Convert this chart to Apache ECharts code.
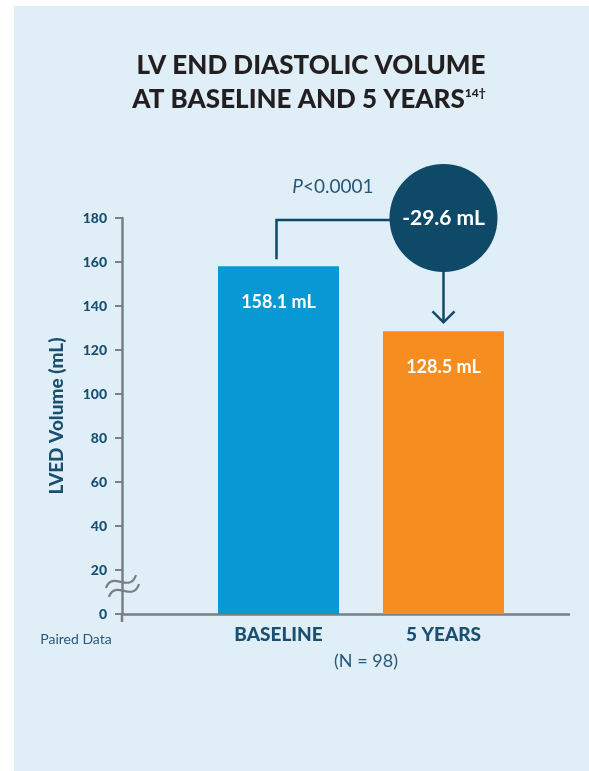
<!DOCTYPE html>
<html>
<head>
<meta charset="utf-8">
<style>
  html, body { margin: 0; padding: 0; background: #ffffff; }
  #chart { width: 589px; height: 771px; }
</style>
<script src="https://cdn.jsdelivr.net/npm/echarts@6/dist/echarts.min.js"></script>
</head>
<body>
<div id="chart"></div>
<script>
// LV end diastolic volume, paired data (N = 98)
const categories = ['BASELINE', '5 YEARS'];
const volumes = [158.1, 128.5];
const barColors = ['#0899d5', '#f58d21'];
const yTicks = { min: 0, max: 180, interval: 20 };
const pValueText = '<0.0001';
const sampleSize = 98;

const change = +(volumes[1] - volumes[0]).toFixed(1);

const FONT = 'Lato, "Open Sans", sans-serif';
const TEAL = '#1a4f70';
const SOFT_TEAL = '#285878';
const NAVY = '#0e4a67';
const AXIS_GREY = '#7b7e82';

const chart = echarts.init(document.getElementById('chart'), null, { renderer: 'canvas' });

const gridTop = 218, gridBottom = 157;

chart.setOption({
  backgroundColor: '#ffffff',
  animation: false,
  grid: [
    { left: 122, right: 20, top: gridTop, bottom: gridBottom },
    { left: 196, width: 330, top: gridTop, bottom: gridBottom }
  ],
  xAxis: [
    {
      gridIndex: 0, type: 'category', data: [''],
      axisLine: { show: true, lineStyle: { color: AXIS_GREY, width: 2.5 } },
      axisTick: { show: false }, axisLabel: { show: false }
    },
    {
      gridIndex: 1, type: 'category', data: categories,
      axisLine: { show: false }, axisTick: { show: false },
      axisLabel: { color: TEAL, fontFamily: FONT, fontWeight: 900, fontSize: 19, margin: 11 }
    }
  ],
  yAxis: [
    {
      gridIndex: 0, type: 'value', min: yTicks.min, max: yTicks.max, interval: yTicks.interval,
      name: 'LVED Volume (mL)', nameLocation: 'middle', nameGap: 56,
      nameTextStyle: { color: TEAL, fontFamily: FONT, fontWeight: 900, fontSize: 19 },
      axisLine: { show: true, lineStyle: { color: AXIS_GREY, width: 2.5 } },
      axisTick: { show: true, length: 7, lineStyle: { color: AXIS_GREY, width: 2 } },
      axisLabel: { color: TEAL, fontFamily: FONT, fontWeight: 900, fontSize: 14, margin: 15 },
      splitLine: { show: false }
    },
    {
      gridIndex: 1, type: 'value', min: yTicks.min, max: yTicks.max, interval: yTicks.interval,
      show: false, splitLine: { show: false }
    }
  ],
  series: [
    {
      type: 'bar', xAxisIndex: 1, yAxisIndex: 1, barWidth: 121, z: 3,
      data: volumes.map((v, i) => ({ value: v, itemStyle: { color: barColors[i] } })),
      label: {
        show: true, position: 'insideTop', distance: 27,
        color: '#ffffff', fontFamily: FONT, fontWeight: 'bold', fontSize: 18,
        formatter: p => p.value.toFixed(1) + ' mL'
      },
      markPoint: {
        symbol: 'circle', symbolSize: 108, silent: true,
        itemStyle: { color: NAVY },
        label: {
          show: true, position: 'inside', color: '#ffffff', fontFamily: FONT,
          fontWeight: 'bold', fontSize: 21,
          formatter: change.toFixed(1) + ' mL'
        },
        data: [{ coord: [categories[1], yTicks.max], value: change }]
      }
    }
  ]
});

// Connector, arrow, axis break and text placed from the axis scales
function px(cat, val) {
  return chart.convertToPixel({ xAxisIndex: 1, yAxisIndex: 1 }, [cat, val]);
}
const top0 = px(categories[0], volumes[0]);
const top1 = px(categories[1], volumes[1]);
const circleC = px(categories[1], yTicks.max);
const circleR = 54;
const bendY = circleC[1] + 2;
const lineX = top0[0] - 2;
const zeroY = chart.convertToPixel({ yAxisIndex: 0 }, 0);
const yAxisX = 122;
const breakY = chart.convertToPixel({ yAxisIndex: 0 }, 10);
const tipY = top1[1] - 9;
const lineStyle = { stroke: NAVY, lineWidth: 2.5, fill: null };

function tilde(dx, dy) {
  const x0 = yAxisX - 16 + dx, y0 = breakY - 4 + dy;
  return {
    type: 'bezierCurve', z: 5,
    shape: { x1: x0, y1: y0, cpx1: x0 + 6, cpy1: y0 - 18, cpx2: x0 + 24, cpy2: y0 + 6, x2: x0 + 30, y2: y0 - 13 },
    style: { stroke: AXIS_GREY, lineWidth: 2.2, fill: null }
  };
}

chart.setOption({
  graphic: [
    { type: 'rect', z: -10, shape: { x: 14, y: 6, width: 575, height: 765 }, style: { fill: '#e0eef8' } },
    {
      type: 'text', z: 5, x: 311, y: 66,
      style: { text: 'LV END DIASTOLIC VOLUME', fill: '#231f20', font: '900 26px ' + FONT, align: 'center', verticalAlign: 'middle' }
    },
    {
      type: 'text', z: 5, x: 309, y: 100,
      style: {
        text: 'AT BASELINE AND 5 YEARS{sup|14†}', fill: '#231f20', font: '900 26px ' + FONT, align: 'center', verticalAlign: 'middle',
        rich: { sup: { fontSize: 12, fontWeight: 900, fontFamily: FONT, fill: '#231f20', verticalAlign: 'top', padding: [0, 0, 12, 0] } }
      }
    },
    {
      type: 'text', z: 5, x: (lineX + circleC[0] - circleR) / 2, y: bendY - 33,
      style: {
        text: '{i|P}{n|' + pValueText + '}', align: 'center', verticalAlign: 'middle',
        rich: {
          i: { fontFamily: FONT, fontStyle: 'italic', fontSize: 19, fill: SOFT_TEAL },
          n: { fontFamily: FONT, fontWeight: 'normal', fontSize: 19, fill: SOFT_TEAL }
        }
      }
    },
    { type: 'polyline', z: 1, shape: { points: [[lineX, top0[1] - 7], [lineX, bendY], [circleC[0], bendY]] }, style: lineStyle },
    { type: 'line', z: 1, shape: { x1: circleC[0], y1: circleC[1], x2: circleC[0], y2: tipY }, style: lineStyle },
    { type: 'polyline', z: 1, shape: { points: [[circleC[0] - 11, tipY - 11], [circleC[0], tipY], [circleC[0] + 11, tipY - 11]] }, style: lineStyle },
    { type: 'line', z: 4, shape: { x1: yAxisX, y1: zeroY, x2: yAxisX, y2: zeroY + 8 }, style: { stroke: AXIS_GREY, lineWidth: 2.5 } },
    tilde(0, 0),
    tilde(3, 9),
    {
      type: 'text', z: 5, x: 76, y: zeroY + 25,
      style: { text: 'Paired Data', fill: SOFT_TEAL, font: 'normal 14px ' + FONT, align: 'center', verticalAlign: 'middle' }
    },
    {
      type: 'text', z: 5, x: 366, y: zeroY + 47,
      style: { text: '(N = ' + sampleSize + ')', fill: SOFT_TEAL, font: 'normal 18px ' + FONT, align: 'center', verticalAlign: 'middle' }
    }
  ]
});
</script>
</body>
</html>
